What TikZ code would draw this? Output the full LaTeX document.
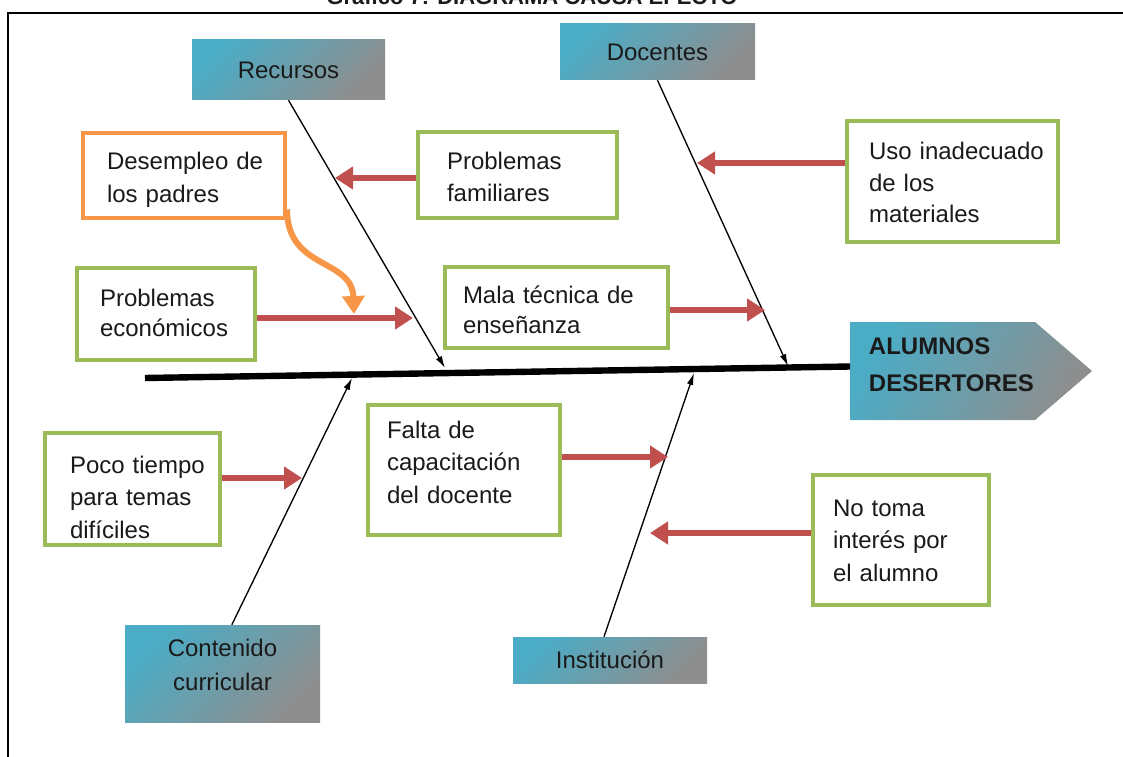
\documentclass[tikz,border=0pt]{standalone}
\usepackage{fontspec}
\setmainfont{Liberation Sans}
\usetikzlibrary{arrows.meta}
\definecolor{cgreen}{HTML}{9BBB59}
\definecolor{corange}{HTML}{F79646}
\definecolor{cred}{HTML}{C0504D}
\definecolor{cblue}{HTML}{4BACC6}
\definecolor{cgray}{HTML}{8E8E8E}
\definecolor{ctext}{HTML}{1A1A1A}
\begin{document}
\begin{tikzpicture}[x=0.75pt,y=-0.75pt,
  every node/.style={font=\fontsize{18}{24.5}\selectfont, text=ctext,
    execute at begin node={\hyphenpenalty=10000\exhyphenpenalty=10000}},
  firstline/.style={text height=0pt, text depth=#1},
  cause/.style={draw=cgreen, line width=3pt, fill=white, align=left, inner ysep=0pt},
  origin/.style={draw=corange, line width=3pt, fill=white, align=left, inner ysep=0pt},
  category/.style={left color=cblue, right color=cgray, shading angle=45, align=center, inner sep=0pt},
  bone/.style={line width=1pt, -{Latex[length=9pt,width=5pt]}},
  redarrow/.style={cred, line width=5pt, -{Triangle[length=13.5pt,width=16.5pt]}},
  orangearrow/.style={corange, line width=4.5pt, -{Triangle[length=13.5pt,width=16.5pt]}},
  spine/.style={line width=4.8pt}
]
\useasboundingbox (0,0) rectangle (1123,756);

% title (cut off at the top, as in the reference) and frame
\node[font=\bfseries\fontsize{16.5}{20}\selectfont, anchor=base] (title) at (532,5) {Gráfico 7: DIAGRAMA CAUSA EFECTO};
\draw[line width=1.5pt] (1130,13) -- (8,13) -- (8,760);

% head
\shade[left color=cblue, right color=cgray, shading angle=60]
  (850,322) -- (1035,322) -- (1092,371) -- (1035,420) -- (850,420) -- cycle;
\node[font=\bfseries\fontsize{18}{27.75}\selectfont, align=left, anchor=west, inner xsep=14pt,
  text width=170pt, firstline=24.75pt] (head) at (850,371) {ALUMNOS\\DESERTORES};

% spine
\coordinate (sl) at (145,378);
\draw[spine] (sl) -- (850,366.5);

% categories
\node[category, minimum width=144.75pt, minimum height=45pt] (rec) at (288.5,70) {Recursos};
\node[category, minimum width=146.25pt, minimum height=42pt] (doc) at (657.5,52) {Docentes};
\node[category, minimum width=146.25pt, minimum height=72.75pt, text width=146.25pt, firstline=26.25pt, font=\fontsize{18}{26}\selectfont] (cont) at (222.5,673.5) {Contenido\\curricular};
\node[category, minimum width=145.5pt, minimum height=34.5pt] (inst) at (610,660) {Institución};

% causes
\node[origin, minimum width=151.5pt, minimum height=63.75pt, inner xsep=18pt, text width=115.5pt, firstline=8.25pt] (desemp) at (184,175.5) {Desempleo~de\\los~padres};
\node[cause, minimum width=149.25pt, minimum height=64.5pt, inner xsep=21.75pt, text width=105.75pt, firstline=9pt] (fam) at (517.5,175) {Problemas\\familiares};
\node[cause, minimum width=158.25pt, minimum height=90.75pt, inner xsep=16.5pt, text width=125.25pt, firstline=32.25pt, font=\fontsize{18}{23.5}\selectfont] (uso) at (952.5,181.5) {Uso~inadecuado\\de~los\\materiales};
\node[cause, minimum width=133.5pt, minimum height=69pt, inner xsep=17.25pt, text width=99pt, firstline=12pt, font=\fontsize{18}{23}\selectfont] (eco) at (166,314) {Problemas\\económicos};
\node[cause, minimum width=167.25pt, minimum height=60.75pt, inner xsep=13.5pt, text width=140.25pt, firstline=6.75pt, font=\fontsize{18}{23}\selectfont] (mala) at (556.5,307.5) {Mala~técnica~de\\enseñanza};
\node[cause, minimum width=131.25pt, minimum height=84pt, inner xsep=18.75pt, text width=93.75pt, firstline=24pt] (poco) at (132.5,489) {Poco~tiempo\\para~temas\\difíciles};
\node[cause, minimum width=144pt, minimum height=97.5pt, inner xsep=14.25pt, text width=115.5pt, firstline=48pt] (falta) at (464,470) {Falta~de\\capacitación\\del~docente};
\node[cause, minimum width=132pt, minimum height=97.5pt, inner xsep=15pt, text width=102pt, firstline=36pt] (notoma) at (901,540) {No~toma\\interés~por\\el~alumno};

% bones
\coordinate (trec) at (445,368);
\coordinate (tdoc) at (788,366);
\coordinate (tcont) at (352,378);
\coordinate (tinst) at (694,373);
\draw[bone] (rec.south) -- (trec);
\draw[bone] (doc.south) -- (tdoc);
\draw[bone] ([xshift=7pt]cont.north) -- (tcont);
\draw[bone] ([xshift=-4.5pt]inst.north) -- (tinst);

% red arrows
\coordinate (tfam) at (335,178);
\coordinate (tuso) at (697,163);
\coordinate (teco) at (413,318);
\coordinate (tmala) at (765,310);
\coordinate (tpoco) at (302,478);
\coordinate (tfalta) at (668,457);
\coordinate (tnotoma) at (650,533);
\draw[redarrow] (fam.west |- tfam) -- (tfam);
\draw[redarrow] (uso.west |- tuso) -- (tuso);
\draw[redarrow] (eco.east |- teco) -- (teco);
\draw[redarrow] (mala.east |- tmala) -- (tmala);
\draw[redarrow] (poco.east |- tpoco) -- (tpoco);
\draw[redarrow] (falta.east |- tfalta) -- (tfalta);
\draw[redarrow] (notoma.west |- tnotoma) -- (tnotoma);

% orange curved arrow
\coordinate (tdes) at (354,314);
\draw[orangearrow] ([yshift=8pt]desemp.south east) .. controls (287,270) and (352,258) .. (tdes);
\end{tikzpicture}
\end{document}
